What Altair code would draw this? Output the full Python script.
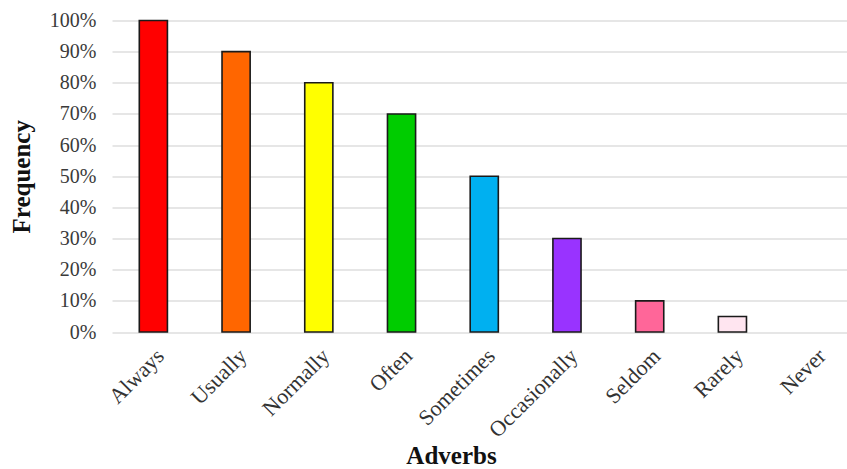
import altair as alt
import pandas as pd

adverbs = ["Always", "Usually", "Normally", "Often", "Sometimes",
           "Occasionally", "Seldom", "Rarely", "Never"]
frequency = [1.00, 0.90, 0.80, 0.70, 0.50, 0.30, 0.10, 0.05, 0.00]
colors = ["#FF0000", "#FF6600", "#FFFF00", "#00CC00", "#00B0F0",
          "#9933FF", "#FF6699", "#FFE5F0", "#FFFFFF"]

df = pd.DataFrame({"Adverb": adverbs, "Frequency": frequency})

FONT = "Liberation Serif"

chart = alt.Chart(df).mark_bar(stroke="#1a1a1a").encode(
    x=alt.X("Adverb:N", sort=adverbs,
            scale=alt.Scale(range=[0, 744.5], paddingInner=0.66, paddingOuter=0.33),
            axis=alt.Axis(title="Adverbs", labelAngle=-45, labelAlign="right",
                          labelBaseline="top", labelPadding=13, ticks=False,
                          domain=False, labelFont=FONT, labelFontSize=22,
                          labelColor="#333333", titleFont=FONT, titleFontSize=25,
                          titleFontWeight="bold", titleColor="#111111",
                          titleX=339, titleY=131, titleBaseline="alphabetic",
                          titleAnchor="middle", labelOverlap=False)),
    y=alt.Y("Frequency:Q",
            scale=alt.Scale(domain=[0, 1], nice=False),
            axis=alt.Axis(title="Frequency", format=".0%",
                          values=[i / 10 for i in range(11)], labelOverlap=False,
                          ticks=False, domain=False, labelPadding=16,
                          labelFont=FONT, labelFontSize=20, labelColor="#3a3a3a",
                          gridColor="#dedede", gridWidth=1.5,
                          titleFont=FONT, titleFontSize=25, titleFontWeight="bold",
                          titleColor="#111111", titleX=-91, titleY=155.75,
                          titleBaseline="middle", titleAngle=-90, titleAnchor="middle")),
    color=alt.Color("Adverb:N", scale=alt.Scale(domain=adverbs, range=colors), legend=None),
    strokeWidth=alt.condition(alt.datum.Frequency > 0, alt.value(1.6), alt.value(0)),
).properties(
    width=735, height=311.5,
    padding={"left": 112, "top": 20.5, "right": 0, "bottom": 137},
    autosize=alt.AutoSizeParams(type="none"),
    background="white",
).configure_view(stroke=None).configure_axisX(grid=False)

chart.save("out.html", embed_options={"renderer": "svg", "actions": False})
